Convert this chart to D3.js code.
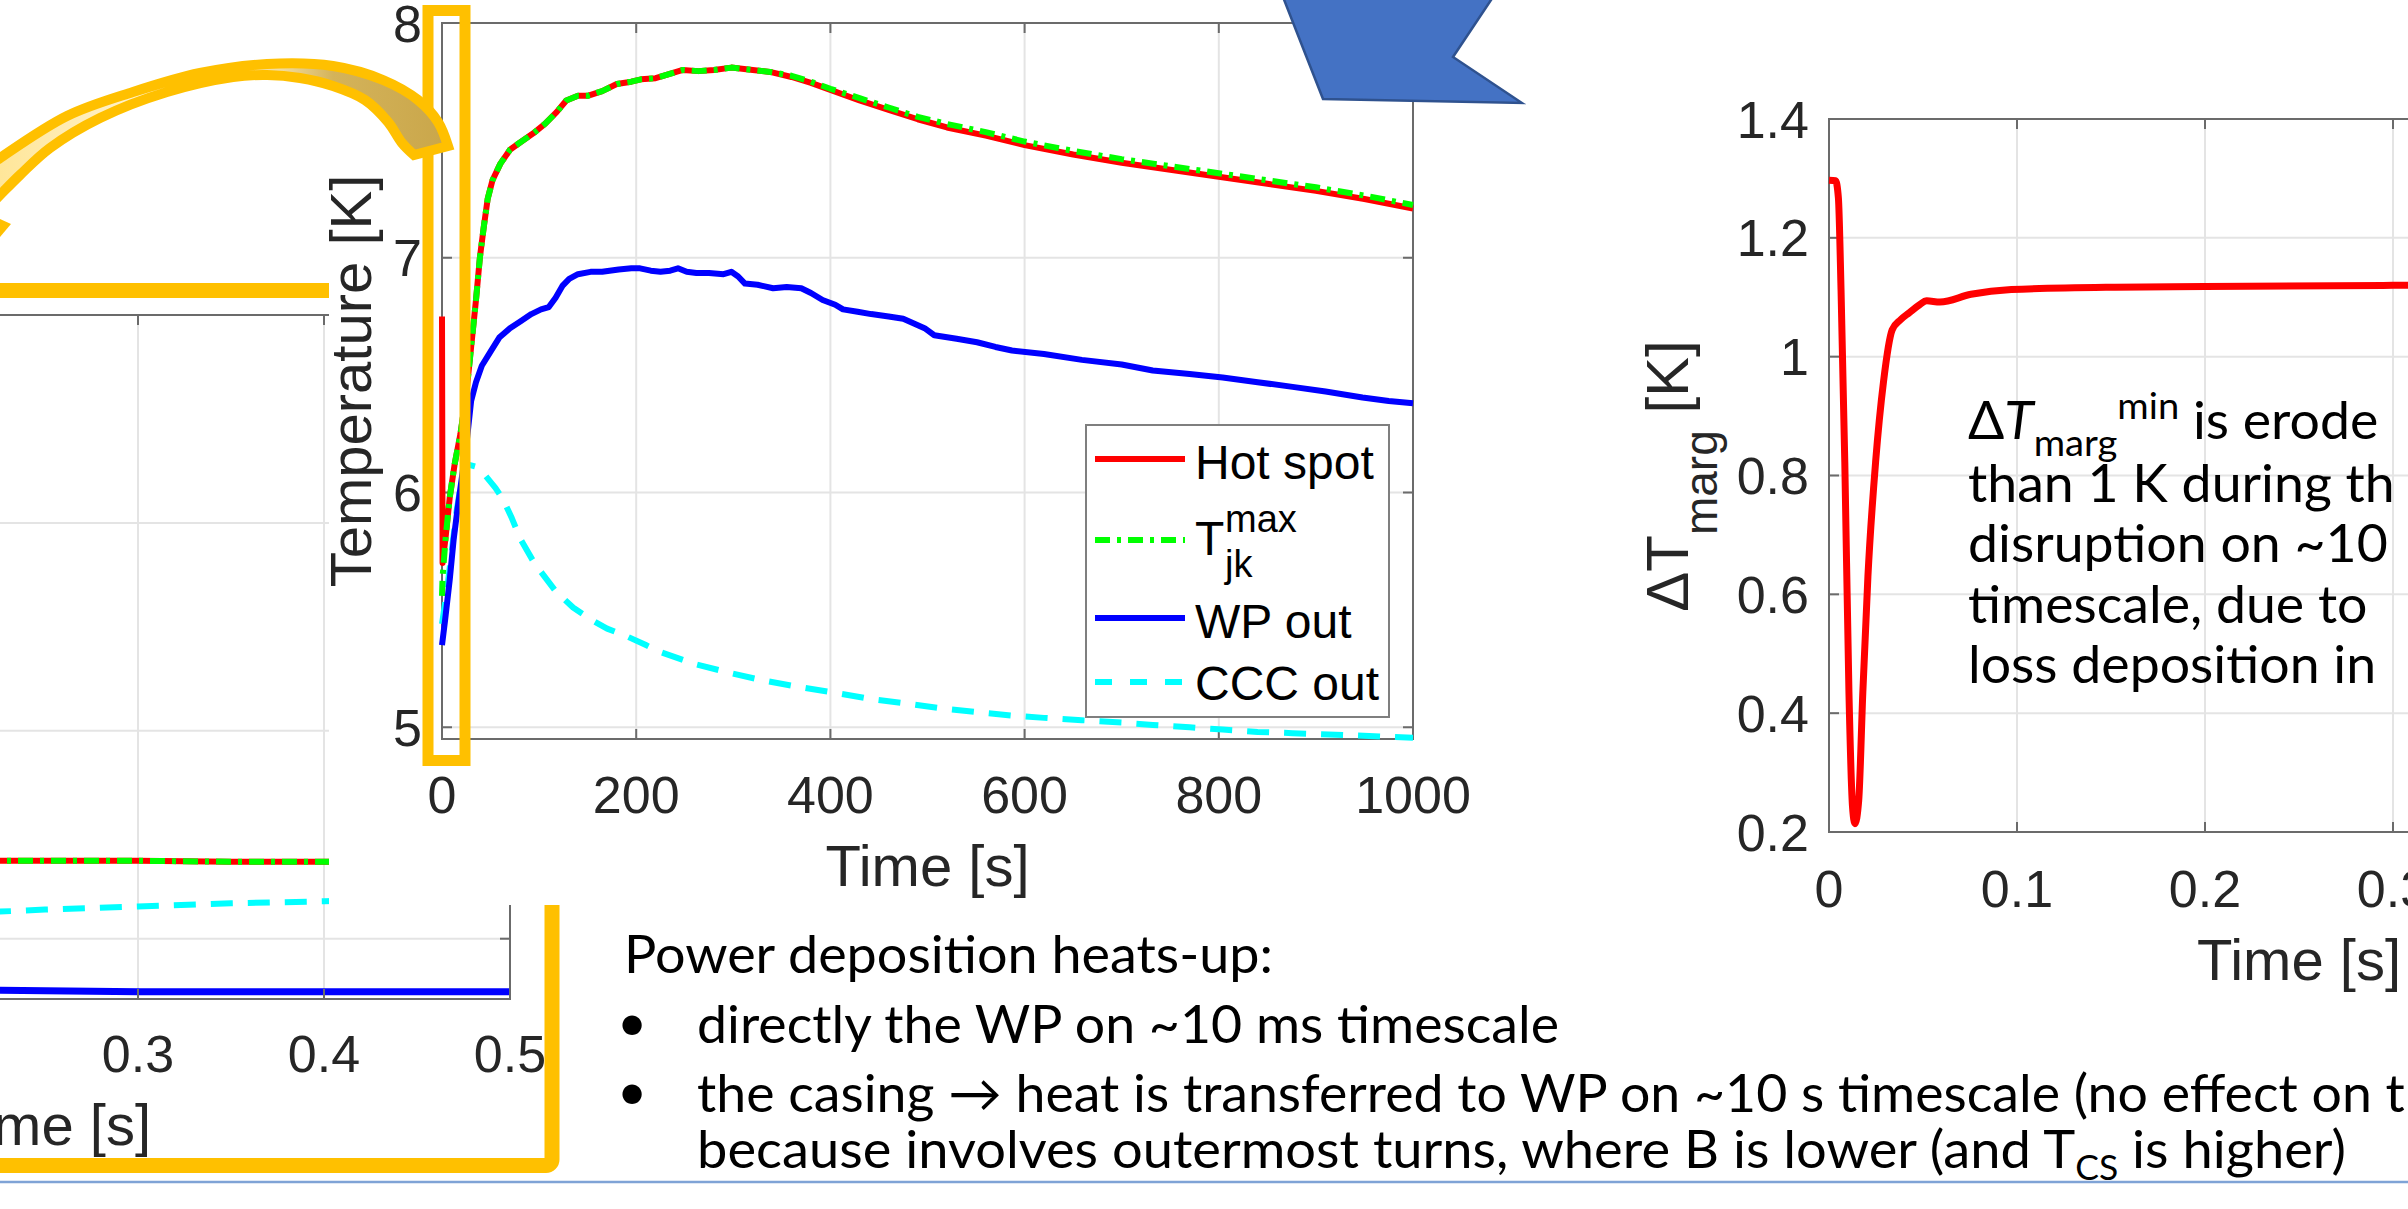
<!DOCTYPE html>
<html><head><meta charset="utf-8">
<script src="https://cdn.jsdelivr.net/npm/d3@7/dist/d3.min.js"></script>
<style>
html,body{margin:0;padding:0;background:#fff;overflow:hidden;}
svg{display:block;}
text{white-space:pre;}
</style></head><body>
<svg id="chart" width="2408" height="1209" viewBox="0 0 2408 1209"></svg>
<script>
// ================= DATA =================
// Main chart: temperature vs time (0–1000 s)
const hotTime  = [0, 0.6, 4, 8, 13, 19, 25, 30, 35, 39, 43, 47, 52, 60, 70, 80, 94, 106, 118, 128, 140, 150, 165, 180, 195, 205, 220, 232, 248, 264, 280, 298, 320, 340, 360, 380, 400, 430, 460, 490, 520, 560, 600, 650, 700, 750, 800, 850, 900, 950, 1000];
const hotSpotK = [6.75, 5.70, 5.82, 5.98, 6.12, 6.25, 6.42, 6.62, 6.82, 7.00, 7.13, 7.25, 7.33, 7.40, 7.46, 7.49, 7.53, 7.57, 7.62, 7.67, 7.69, 7.69, 7.71, 7.74, 7.75, 7.76, 7.765, 7.78, 7.80, 7.795, 7.80, 7.81, 7.80, 7.79, 7.77, 7.745, 7.715, 7.67, 7.63, 7.59, 7.555, 7.52, 7.48, 7.44, 7.405, 7.375, 7.345, 7.315, 7.285, 7.25, 7.21];
const tjkMaxK  = [5.56, 5.64, 5.82, 5.98, 6.12, 6.25, 6.42, 6.62, 6.82, 7.00, 7.13, 7.25, 7.33, 7.40, 7.46, 7.49, 7.53, 7.57, 7.62, 7.67, 7.69, 7.69, 7.71, 7.74, 7.75, 7.76, 7.765, 7.78, 7.80, 7.795, 7.80, 7.81, 7.80, 7.79, 7.775, 7.75, 7.72, 7.68, 7.64, 7.60, 7.57, 7.535, 7.495, 7.455, 7.42, 7.39, 7.36, 7.33, 7.30, 7.265, 7.225];
const wpTime   = [0, 3, 8, 12, 16, 20, 25, 30, 35, 41, 50, 59, 70, 81, 92, 102, 110, 117, 124, 131, 140, 153, 165, 182, 195, 204, 215, 225, 235, 243, 252, 262, 275, 290, 298, 305, 312, 325, 341, 355, 370, 380, 392, 405, 413, 428, 442, 460, 475, 486, 497, 507, 530, 551, 570, 587, 620, 659, 700, 732, 770, 804, 840, 876, 910, 948, 975, 1000];
const wpOutK   = [5.35, 5.45, 5.63, 5.80, 5.93, 6.05, 6.20, 6.39, 6.47, 6.54, 6.60, 6.66, 6.70, 6.73, 6.76, 6.78, 6.79, 6.83, 6.88, 6.91, 6.93, 6.94, 6.94, 6.95, 6.955, 6.955, 6.945, 6.94, 6.945, 6.955, 6.94, 6.935, 6.935, 6.93, 6.94, 6.92, 6.89, 6.885, 6.87, 6.875, 6.87, 6.85, 6.82, 6.80, 6.78, 6.77, 6.76, 6.75, 6.74, 6.72, 6.70, 6.67, 6.655, 6.64, 6.62, 6.605, 6.59, 6.565, 6.545, 6.52, 6.505, 6.49, 6.47, 6.45, 6.43, 6.405, 6.39, 6.38];
const cccTime  = [0, 5, 10, 15, 20, 26, 35, 45, 55, 63, 72, 81, 95, 117, 135, 153, 170, 189, 210, 225, 260, 298, 330, 370, 400, 442, 480, 515, 550, 587, 620, 659, 700, 732, 770, 804, 840, 876, 940, 1000];
const cccOutK  = [5.44, 5.58, 5.75, 5.92, 6.05, 6.12, 6.11, 6.07, 6.02, 5.97, 5.89, 5.80, 5.70, 5.58, 5.51, 5.46, 5.42, 5.39, 5.35, 5.32, 5.27, 5.23, 5.20, 5.17, 5.15, 5.12, 5.10, 5.08, 5.065, 5.05, 5.04, 5.03, 5.02, 5.01, 5.00, 4.99, 4.98, 4.975, 4.965, 4.955];
const mainXTicks = [0, 200, 400, 600, 800, 1000];
const mainYTicks = [5, 6, 7, 8];
const legendNames = ['Hot spot', 'T', 'WP out', 'CCC out'];

// Zoomed chart behind (0–0.5 s), only its right part is visible
const zoomTime = [0.2, 0.25, 0.3, 0.35, 0.4, 0.45, 0.5];
const zoomHotK = [5.475, 5.475, 5.475, 5.474, 5.474, 5.474, 5.474];
const zoomTjkK = [5.475, 5.475, 5.475, 5.474, 5.474, 5.474, 5.474];
const zoomWpK  = [5.351, 5.350, 5.349, 5.349, 5.349, 5.349, 5.349];
const zoomCccK = [5.424, 5.428, 5.431, 5.434, 5.436, 5.438, 5.440];
const zoomXTicks = [0.3, 0.4, 0.5];
const zoomGridX  = [0.1, 0.2, 0.3, 0.4];
const zoomYTicks = [5.4, 5.6, 5.8];

// Temperature margin chart (right)
const margTime = [0, 0.0035, 0.005, 0.0064, 0.0084, 0.0106, 0.0125, 0.0138, 0.0158, 0.018, 0.0207, 0.0248, 0.029, 0.0336, 0.038, 0.0427, 0.048, 0.052, 0.059, 0.0755, 0.097, 0.152, 0.2, 0.3, 0.4, 0.5];
const margK    = [1.297, 1.296, 1.267, 1.113, 0.823, 0.436, 0.243, 0.214, 0.253, 0.436, 0.63, 0.823, 0.958, 1.045, 1.062, 1.074, 1.087, 1.094, 1.092, 1.105, 1.113, 1.117, 1.118, 1.12, 1.121, 1.122];
const margXTicks = [0, 0.1, 0.2, 0.3];
const margGridX  = [0.1, 0.2, 0.3, 0.4];
const margYTicks = [0.2, 0.4, 0.6, 0.8, 1, 1.2, 1.4];

// Slide text
const introLine = 'Power deposition heats-up:';
const bullet1 = 'directly the WP on ~10 ms timescale';
const bullet2a = 'the casing \u2192 heat is transferred to WP on ~10 s timescale (no effect on t';
const bullet2b = ['because involves outermost turns, where B is lower (and T', 'CS', ' is higher)'];
const noteLines = ['than 1 K during th', 'disruption on ~10', 'timescale, due to', 'loss deposition in'];

// ================= STYLE =================
const MFONT = "'Liberation Sans', Arial, Helvetica, sans-serif";
const SFONT = "Lato, Carlito, Calibri, sans-serif";
const AX = '#6b6b6b', GRID = '#e4e4e4', TXT = '#262626';
const GOLD = '#FFC000';
const C = {hot: '#ff0000', tjk: '#00ff00', wp: '#0000ff', ccc: '#00ffff'};
const LW = 6;
const DASHDOT = '15,7,4,7';
const DASHED = '22,15';

const svg = d3.select('#chart');
const defs = svg.append('defs');
const grad = defs.append('linearGradient').attr('id', 'arrowFill')
  .attr('gradientUnits', 'userSpaceOnUse').attr('x1', 0).attr('y1', 0).attr('x2', 450).attr('y2', 0);
[[0, '#FFE699'], [0.3, '#FFF2CC'], [0.62, '#F3DDA0'], [0.74, '#D4B35A'], [1, '#C9A64A']]
  .forEach(s => grad.append('stop').attr('offset', s[0]).attr('stop-color', s[1]));

function ln(g, x1, y1, x2, y2, color, w) {
  return g.append('line').attr('x1', x1).attr('y1', y1).attr('x2', x2).attr('y2', y2)
    .attr('stroke', color).attr('stroke-width', w);
}
function series(g, X, Y, xs, ys, color, w, dash, curve) {
  const gen = d3.line().x(d => X(d[0])).y(d => Y(d[1])).curve(curve || d3.curveLinear);
  const p = g.append('path').datum(d3.zip(xs, ys)).attr('d', gen)
    .attr('fill', 'none').attr('stroke', color).attr('stroke-width', w)
    .attr('stroke-linejoin', 'round');
  if (dash) p.attr('stroke-dasharray', dash);
  return p;
}
function mtext(g, x, y, str, size, anchor, color) {
  return g.append('text').attr('x', x).attr('y', y).text(str)
    .attr('font-family', MFONT).attr('font-size', size)
    .attr('text-anchor', anchor || 'middle').attr('fill', color || TXT);
}

// ================= ZOOMED CHART (back layer) =================
const gz = svg.append('g');
const zX = d3.scaleLinear().domain([0, 0.5]).range([-420, 510]);
const zY = d3.scaleLinear().domain([5.342, 6.0]).range([999, 315]);
zoomGridX.forEach(v => ln(gz, zX(v), zY(6.0), zX(v), zY(5.342), GRID, 2));
zoomYTicks.forEach(v => ln(gz, zX(0), zY(v), zX(0.5), zY(v), GRID, 2));
series(gz, zX, zY, zoomTime, zoomCccK, C.ccc, LW, DASHED);
series(gz, zX, zY, zoomTime, zoomWpK, C.wp, 7);
series(gz, zX, zY, zoomTime, zoomHotK, C.hot, LW);
series(gz, zX, zY, zoomTime, zoomTjkK, C.tjk, LW, DASHDOT);
gz.append('rect').attr('x', zX(0)).attr('y', zY(6.0)).attr('width', zX(0.5) - zX(0))
  .attr('height', zY(5.342) - zY(6.0)).attr('fill', 'none').attr('stroke', AX).attr('stroke-width', 2);
zoomGridX.concat([0.5]).forEach(v => {
  ln(gz, zX(v), zY(5.342), zX(v), zY(5.342) - 10, AX, 2);
  ln(gz, zX(v), zY(6.0), zX(v), zY(6.0) + 10, AX, 2);
});
zoomYTicks.forEach(v => ln(gz, zX(0.5), zY(v), zX(0.5) - 10, zY(v), AX, 2));
zoomXTicks.forEach(v => mtext(gz, zX(v), 1072, String(v), 52));
mtext(gz, 151, 1145, 'me [s]', 58, 'end');
// gold frame around zoomed chart
gz.append('rect').attr('x', -600).attr('y', 290.5).attr('width', 1152).attr('height', 875)
  .attr('rx', 6).attr('fill', 'none').attr('stroke', GOLD).attr('stroke-width', 15);

// ================= MAIN CHART =================
const gm = svg.append('g');
gm.append('rect').attr('x', 329).attr('y', 0).attr('width', 1160).attr('height', 905).attr('fill', '#fff');
const mX = d3.scaleLinear().domain([0, 1000]).range([442, 1413]);
const mY = d3.scaleLinear().domain([4.95, 8]).range([739, 23]);
mainXTicks.forEach(v => ln(gm, mX(v), mY(8), mX(v), mY(4.95), GRID, 2));
mainYTicks.forEach(v => ln(gm, mX(0), mY(v), mX(1000), mY(v), GRID, 2));
gm.append('rect').attr('x', mX(0)).attr('y', mY(8)).attr('width', mX(1000) - mX(0))
  .attr('height', mY(4.95) - mY(8)).attr('fill', 'none').attr('stroke', AX).attr('stroke-width', 2);
mainXTicks.forEach(v => {
  ln(gm, mX(v), mY(4.95), mX(v), mY(4.95) - 10, AX, 2);
  ln(gm, mX(v), mY(8), mX(v), mY(8) + 10, AX, 2);
  mtext(gm, mX(v), 813, String(v), 52);
});
mainYTicks.forEach(v => {
  ln(gm, mX(0), mY(v), mX(0) + 10, mY(v), AX, 2);
  ln(gm, mX(1000), mY(v), mX(1000) - 10, mY(v), AX, 2);
  mtext(gm, 422, mY(v) + 18.5, String(v), 52, 'end');
});
series(gm, mX, mY, cccTime, cccOutK, C.ccc, LW, DASHED);
series(gm, mX, mY, wpTime, wpOutK, C.wp, LW);
series(gm, mX, mY, hotTime, hotSpotK, C.hot, LW);
series(gm, mX, mY, hotTime, tjkMaxK, C.tjk, LW, DASHDOT);
mtext(gm, (mX(0) + mX(1000)) / 2, 886, 'Time [s]', 58);
mtext(gm, 0, 0, 'Temperature [K]', 58).attr('transform', 'translate(371,381) rotate(-90)');

// legend
const lg = gm.append('g');
lg.append('rect').attr('x', 1086).attr('y', 425).attr('width', 303).attr('height', 292)
  .attr('fill', '#fff').attr('stroke', '#7f7f7f').attr('stroke-width', 2);
const legColors = [C.hot, C.tjk, C.wp, C.ccc];
const legDash = [null, DASHDOT, null, '17,18'];
const legLineY = [459, 540, 618, 682];
const legTextY = [479, 555, 638, 700];
legendNames.forEach((name, i) => {
  const l = ln(lg, 1095, legLineY[i], 1185, legLineY[i], legColors[i], LW);
  if (legDash[i]) l.attr('stroke-dasharray', legDash[i]);
  mtext(lg, 1195, legTextY[i], name, 48, 'start', '#000');
});
mtext(lg, 1225, 532, 'max', 38, 'start', '#000');
mtext(lg, 1225, 577, 'jk', 38, 'start', '#000');

// gold frame around t≈0 region of main chart
svg.append('rect').attr('x', 428).attr('y', 10.5).attr('width', 37).attr('height', 750)
  .attr('fill', 'none').attr('stroke', GOLD).attr('stroke-width', 11);

// curved gold arrow
const upperEdge = [[-10, 165], [0, 158], [67, 116], [133, 92], [200, 73], [267, 64], [333, 66], [383, 80], [418, 100], [438, 122], [448, 146]];
const lowerEdge = [[414, 155], [402, 143], [388, 122], [365, 100], [333, 86], [300, 78], [267, 75], [233, 77], [167, 92], [100, 118], [50, 148], [20, 175], [0, 195], [-10, 205]];
const edgeGen = d3.line().curve(d3.curveCatmullRom.alpha(0.5));
const arrowD = edgeGen(upperEdge) + 'L' + edgeGen(lowerEdge).slice(1) + 'Z';
svg.append('path').attr('d', arrowD).attr('fill', 'url(#arrowFill)')
  .attr('stroke', GOLD).attr('stroke-width', 10).attr('stroke-linejoin', 'miter');
svg.append('polygon').attr('points', '-30,205 11,224 -15,255').attr('fill', GOLD);

// blue callout shape
svg.append('polygon').attr('points', '1283,-3 1493,-3 1453,57 1522,103 1323,99')
  .attr('fill', '#4472C4').attr('stroke', '#2F528F').attr('stroke-width', 2.5);

// ================= MARGIN CHART (right) =================
const gr = svg.append('g');
const rX = d3.scaleLinear().domain([0, 0.5]).range([1829, 2769]);
const rY = d3.scaleLinear().domain([0.2, 1.4]).range([832, 119]);
margGridX.forEach(v => ln(gr, rX(v), rY(1.4), rX(v), rY(0.2), GRID, 2));
margYTicks.forEach(v => ln(gr, rX(0), rY(v), rX(0.5), rY(v), GRID, 2));
gr.append('rect').attr('x', rX(0)).attr('y', rY(1.4)).attr('width', rX(0.5) - rX(0))
  .attr('height', rY(0.2) - rY(1.4)).attr('fill', 'none').attr('stroke', AX).attr('stroke-width', 2);
margGridX.forEach(v => {
  ln(gr, rX(v), rY(0.2), rX(v), rY(0.2) - 10, AX, 2);
  ln(gr, rX(v), rY(1.4), rX(v), rY(1.4) + 10, AX, 2);
});
margYTicks.forEach(v => {
  ln(gr, rX(0), rY(v), rX(0) + 10, rY(v), AX, 2);
  mtext(gr, 1809, rY(v) + 18.5, String(v), 52, 'end');
});
margXTicks.forEach(v => mtext(gr, rX(v), 907, String(v), 52));
series(gr, rX, rY, margTime, margK, C.hot, 7, null, d3.curveMonotoneX);
mtext(gr, (rX(0) + rX(0.5)) / 2, 980, 'Time [s]', 58);
const yl = gr.append('text').attr('transform', 'translate(1688,476) rotate(-90)')
  .attr('font-family', MFONT).attr('font-size', 60).attr('text-anchor', 'middle').attr('fill', TXT);
yl.append('tspan').text('\u0394T');
yl.append('tspan').text('marg').attr('font-size', 46).attr('dy', 29);
yl.append('tspan').text(' [K]').attr('dy', -29);

// ================= SLIDE TEXT =================
const gt = svg.append('g');
const SSIZE = 52;
function stext(x, y, parts) {
  const t = gt.append('text').attr('x', x).attr('y', y)
    .attr('font-family', SFONT).attr('font-size', SSIZE).attr('fill', '#000');
  parts.forEach(p => {
    const s = t.append('tspan').text(p.t);
    if (p.size) s.attr('font-size', p.size);
    if (p.dy) s.attr('dy', p.dy);
    if (p.it) s.attr('font-style', 'italic');
  });
  return t;
}
const tIntro = stext(624, 973, [{t: introLine}]);
const tB1 = stext(697, 1043, [{t: bullet1}]);
const tB2a = stext(697, 1112, [{t: bullet2a}]);
const tB2b = stext(697, 1168, [{t: bullet2b[0]}, {t: bullet2b[1], size: 34, dy: 12}, {t: bullet2b[2], dy: -12}]);
gt.append('text').attr('x', 632).attr('y', 1041).attr('text-anchor', 'middle')
  .attr('font-family', SFONT).attr('font-size', SSIZE).text('\u2022');
gt.append('text').attr('x', 632).attr('y', 1110).attr('text-anchor', 'middle')
  .attr('font-family', SFONT).attr('font-size', SSIZE).text('\u2022');
const note1 = stext(1968, 439, [{t: '\u0394'}, {t: 'T', it: true}, {t: 'marg', size: 37, dy: 17}, {t: 'min', size: 37, dy: -37}, {t: ' is erode', dy: 20}]);
const notes = noteLines.map((s, i) => stext(1968, [502, 562, 623, 683][i], [{t: s}]));

const k = 862 / tB1.node().getComputedTextLength();
function fit(t, target) {
  const w = target || t.node().getComputedTextLength() * k;
  t.attr('textLength', w).attr('lengthAdjust', 'spacingAndGlyphs');
}
fit(tB1, 862);
fit(tIntro, 649);
fit(tB2a);
fit(tB2b, 1649);
fit(note1);
notes.forEach(t => fit(t));

// slide separator line
ln(svg, 0, 1182, 2408, 1182, '#7FA3D6', 2.5);
</script>
</body></html>
